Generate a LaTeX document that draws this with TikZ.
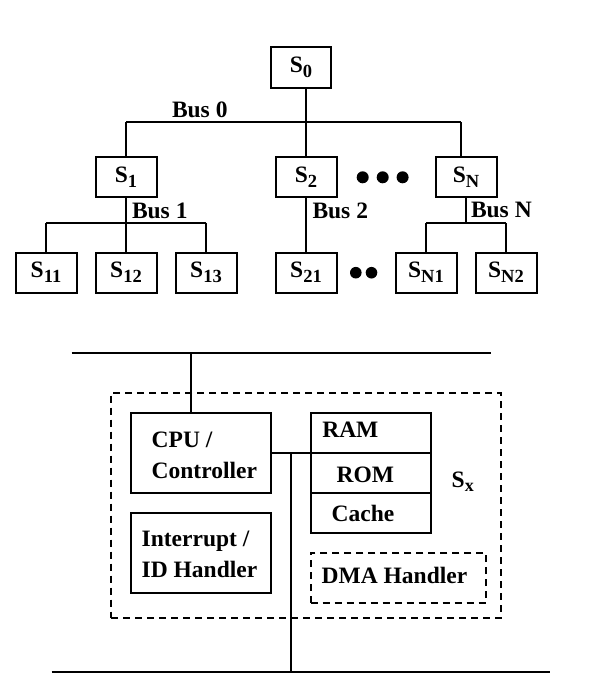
\documentclass[tikz,border=0pt]{standalone}
\usepackage{fontspec}
\setmainfont{Liberation Serif}
\newcommand\sbx[1]{\raisebox{-5pt}{\fontsize{18.5}{19}\selectfont #1}}
\begin{document}
\begin{tikzpicture}[x=1pt,y=-1pt,line width=2pt,
  sbox/.style={draw,line width=2pt,inner sep=0pt,outer sep=0pt,minimum width=61pt,minimum height=40pt,font=\fontsize{23.5}{25}\selectfont\bfseries},
  box/.style={draw,line width=2pt,inner sep=0pt,outer sep=0pt,anchor=north west},
  dbox/.style={box,dash pattern=on 7pt off 5pt},
  txt/.style={inner sep=0pt,outer sep=0pt,anchor=base west,font=\fontsize{23.5}{28}\selectfont\bfseries},
  btxt/.style={txt,font=\fontsize{23.5}{25}\selectfont\bfseries}]
\useasboundingbox (0,0) rectangle (592,689);
% ---------- tree ----------
\node[sbox,minimum width=60pt,minimum height=41pt] (s0) at (301,67.8) {S\sbx{0}};
\node[sbox] (s1) at (126,177.3) {S\sbx{1}};
\node[sbox] (s2) at (306,177.3) {S\sbx{2}};
\node[sbox] (sN) at (466,177.3) {S\sbx{N}};
\node[sbox] (s11) at (46,272.7) {S\sbx{11}};
\node[sbox] (s12) at (126,272.7) {S\sbx{12}};
\node[sbox] (s13) at (206,272.7) {S\sbx{13}};
\node[sbox] (s21) at (306,272.7) {S\sbx{21}};
\node[sbox] (sN1) at (426,272.7) {S\sbx{N1}};
\node[sbox] (sN2) at (506,272.7) {S\sbx{N2}};
\coordinate (b0L) at (126,122);
\coordinate (b0M) at (306,122);
\coordinate (b0R) at (461,122);
\coordinate (b1L) at (46,222.7);
\coordinate (b1R) at (206,222.7);
\coordinate (bNL) at (426,223);
\coordinate (bNR) at (506,223);
\draw (b0L) -- (b0R);
\draw ([xshift=5pt]s0.south) -- (b0M);
\draw (b0L) -- (s1.north);
\draw (b0M) -- (s2.north);
\draw (b0R) -- ([xshift=-5pt]sN.north);
\draw (b1L) -- (b1R);
\draw (s1.south) -- (s1.south |- b1L);
\draw (b1L) -- (s11.north);
\draw (s12.north |- b1L) -- (s12.north);
\draw (b1R) -- (s13.north);
\draw (s2.south) -- (s21.north);
\draw (bNL) -- (bNR);
\draw (sN.south) -- (sN.south |- bNL);
\draw (bNL) -- (sN1.north);
\draw (bNR) -- (sN2.north);
\node[btxt] (l0) at (172,117) {Bus 0};
\node[btxt] (l1) at (132,218) {Bus 1};
\node[btxt] (l2) at (312.5,218) {Bus 2};
\node[btxt] (lN) at (471,217) {Bus N};
\fill (362.7,177.3) circle (6pt) (382.7,177.3) circle (6pt) (402.6,177.3) circle (6pt);
\fill (355.8,272.7) circle (5.8pt) (371.5,272.7) circle (5.8pt);
% ---------- node detail ----------
\coordinate (tl) at (71.7,352.7);
\coordinate (tr) at (490.7,352.7);
\coordinate (tap) at (191,352.7);
\coordinate (bl) at (51.7,672.3);
\coordinate (br) at (550,672.3);
\coordinate (j) at (290.7,452.7);
\node[dbox,minimum width=390pt,minimum height=225pt] (sx) at (111,392.7) {};
\node[box,minimum width=140.3pt,minimum height=80pt] (cpu) at (130.7,412.7) {};
\node[box,minimum width=140.3pt,minimum height=80pt] (intr) at (130.7,512.7) {};
\node[box,minimum width=120.3pt,minimum height=40pt] (ram) at (310.7,412.7) {};
\node[box,minimum width=120.3pt,minimum height=40.6pt] (rom) at (310.7,452.7) {};
\node[box,minimum width=120.3pt,minimum height=39.4pt] (cache) at (310.7,493.3) {};
\node[dbox,minimum width=175.3pt,minimum height=50pt] (dma) at (310.7,552.7) {};
\draw (tl) -- (tr);
\draw (tap) -- (tap |- cpu.north);
\draw (cpu.east) -- (rom.north west);
\draw (j) -- (j |- bl);
\draw (bl) -- (br);
\node[txt] (t1) at (151.7,447.3) {CPU /};
\node[txt] (t2) at (151.7,478.3) {Controller};
\node[txt] (t3) at (141.7,546.7) {Interrupt /};
\node[txt] (t4) at (141.7,577.3) {ID Handler};
\node[txt] (t5) at (322.3,437.7) {RAM};
\node[txt] (t6) at (336.7,482.7) {ROM};
\node[txt] (t7) at (331.7,521.7) {Cache};
\node[txt] (t8) at (321.7,583.3) {DMA Handler};
\node[txt] (t9) at (451.7,487.3) {S\raisebox{-4.5pt}{\fontsize{18}{18}\selectfont x}};
\end{tikzpicture}
\end{document}
